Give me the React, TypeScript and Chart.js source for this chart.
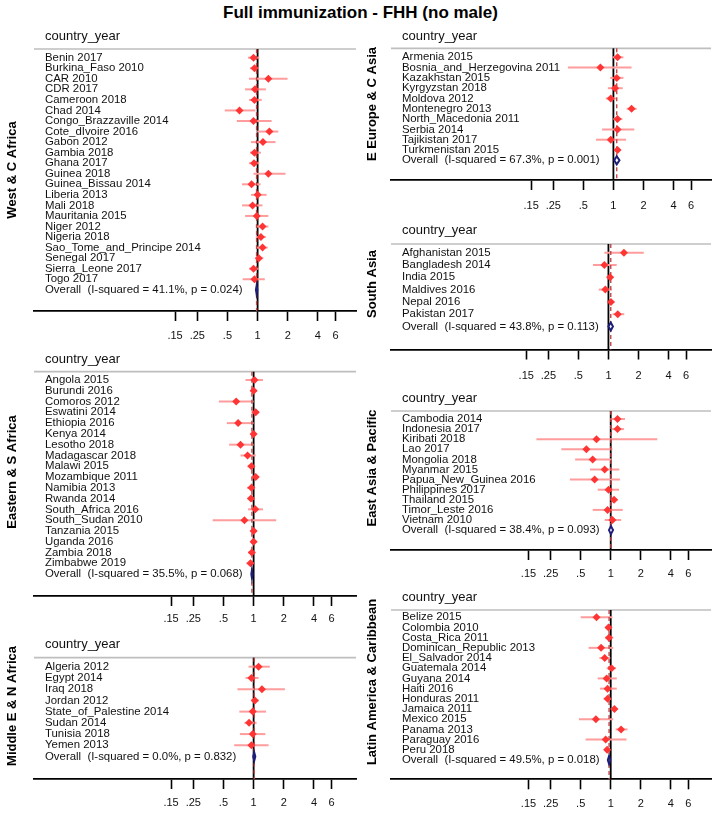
import React, { useEffect, useRef } from "react";
import { Chart, registerables } from "chart.js";

Chart.register(...registerables);

const FONT = '"Liberation Sans", Arial, sans-serif';

const chartTitle = "Full immunization - FHH (no male)";
const headerText = "country_year";
const tickValues = [0.15, 0.25, 0.5, 1, 2, 4, 6];
const tickLabels = [".15", ".25", ".5", "1", "2", "4", "6"];

const regionNames = [
  "West & C Africa",
  "Eastern & S Africa",
  "Middle E & N Africa",
  "E Europe & C Asia",
  "South Asia",
  "East Asia & Pacific",
  "Latin America & Caribbean",
];

// West & C Africa
const westLabels = [
  "Benin 2017", "Burkina_Faso 2010", "CAR 2010", "CDR 2017", "Cameroon 2018", "Chad 2014",
  "Congo_Brazzaville 2014", "Cote_dIvoire 2016", "Gabon 2012", "Gambia 2018", "Ghana 2017",
  "Guinea 2018", "Guinea_Bissau 2014", "Liberia 2013", "Mali 2018", "Mauritania 2015",
  "Niger 2012", "Nigeria 2018", "Sao_Tome_and_Principe 2014", "Senegal 2017",
  "Sierra_Leone 2017", "Togo 2017",
];
const westEst = [0.91, 0.93, 1.28, 0.94, 0.93, 0.66, 0.91, 1.31, 1.13, 0.93, 0.92, 1.28, 0.87, 1.0, 0.89, 0.98, 1.12, 1.08, 1.12, 1.03, 0.91, 0.93];
const westLo = [0.8, 0.84, 0.82, 0.75, 0.82, 0.47, 0.62, 0.99, 0.86, 0.84, 0.82, 0.91, 0.7, 0.86, 0.7, 0.75, 0.96, 0.96, 0.98, 0.95, 0.82, 0.71];
const westHi = [1.04, 1.02, 1.99, 1.21, 1.1, 0.95, 1.38, 1.61, 1.51, 1.08, 1.04, 1.9, 1.07, 1.23, 1.12, 1.28, 1.28, 1.21, 1.26, 1.14, 1.02, 1.18];

// Eastern & S Africa
const eastSLabels = [
  "Angola 2015", "Burundi 2016", "Comoros 2012", "Eswatini 2014", "Ethiopia 2016", "Kenya 2014",
  "Lesotho 2018", "Madagascar 2018", "Malawi 2015", "Mozambique 2011", "Namibia 2013",
  "Rwanda 2014", "South_Africa 2016", "South_Sudan 2010", "Tanzania 2015", "Uganda 2016",
  "Zambia 2018", "Zimbabwe 2019",
];
const eastSEst = [1.02, 1.0, 0.67, 1.05, 0.7, 1.0, 0.74, 0.87, 0.95, 1.05, 0.95, 0.94, 1.04, 0.81, 1.0, 1.0, 0.96, 0.93];
const eastSLo = [0.83, 0.93, 0.45, 0.95, 0.54, 0.93, 0.57, 0.74, 0.87, 0.95, 0.86, 0.87, 0.88, 0.39, 0.93, 0.93, 0.88, 0.85];
const eastSHi = [1.24, 1.08, 1.0, 1.13, 1.0, 1.06, 1.0, 1.05, 1.02, 1.13, 1.02, 1.02, 1.24, 1.68, 1.08, 1.08, 1.04, 1.0];

// Middle E & N Africa
const menaLabels = [
  "Algeria 2012", "Egypt 2014", "Iraq 2018", "Jordan 2012", "State_of_Palestine 2014",
  "Sudan 2014", "Tunisia 2018", "Yemen 2013",
];
const menaEst = [1.12, 0.95, 1.21, 1.03, 0.98, 0.9, 0.98, 0.95];
const menaLo = [0.89, 0.83, 0.69, 0.94, 0.72, 0.81, 0.73, 0.64];
const menaHi = [1.45, 1.12, 2.05, 1.12, 1.33, 1.07, 1.31, 1.41];

// E Europe & C Asia
const eecaLabels = [
  "Armenia 2015", "Bosnia_and_Herzegovina 2011", "Kazakhstan 2015", "Kyrgyzstan 2018",
  "Moldova 2012", "Montenegro 2013", "North_Macedonia 2011", "Serbia 2014",
  "Tajikistan 2017", "Turkmenistan 2015",
];
const eecaEst = [1.1, 0.74, 1.08, 1.04, 0.94, 1.52, 1.1, 1.1, 0.94, 1.1];
const eecaLo = [0.98, 0.35, 0.93, 0.88, 0.84, 1.36, 1.0, 0.77, 0.67, 1.04];
const eecaHi = [1.26, 1.52, 1.26, 1.24, 1.06, 1.71, 1.23, 1.62, 1.34, 1.18];

// South Asia
const southLabels = [
  "Afghanistan 2015", "Bangladesh 2014", "India 2015", "Maldives 2016", "Nepal 2016", "Pakistan 2017",
];
const southEst = [1.43, 0.91, 1.04, 0.93, 1.06, 1.24];
const southLo = [0.91, 0.7, 0.96, 0.8, 0.99, 1.1];
const southHi = [2.26, 1.21, 1.12, 1.08, 1.15, 1.44];

// East Asia & Pacific
const eapLabels = [
  "Cambodia 2014", "Indonesia 2017", "Kiribati 2018", "Lao 2017", "Mongolia 2018",
  "Myanmar 2015", "Papua_New_Guinea 2016", "Philippines 2017", "Thailand 2015",
  "Timor_Leste 2016", "Vietnam 2010",
];
const eapEst = [1.17, 1.17, 0.72, 0.57, 0.66, 0.87, 0.69, 0.95, 1.08, 0.93, 1.04];
const eapLo = [0.99, 1.02, 0.18, 0.32, 0.44, 0.62, 0.39, 0.74, 1.0, 0.66, 0.87];
const eapHi = [1.39, 1.36, 2.93, 1.04, 1.02, 1.22, 1.24, 1.21, 1.17, 1.32, 1.27];

// Latin America & Caribbean
const lacLabels = [
  "Belize 2015", "Colombia 2010", "Costa_Rica 2011", "Dominican_Republic 2013", "El_Salvador 2014",
  "Guatemala 2014", "Guyana 2014", "Haiti 2016", "Honduras 2011", "Jamaica 2011",
  "Mexico 2015", "Panama 2013", "Paraguay 2016", "Peru 2018",
];
const lacEst = [0.72, 0.95, 0.96, 0.8, 0.87, 1.02, 0.91, 0.93, 0.93, 1.09, 0.71, 1.27, 0.89, 0.92];
const lacLo = [0.5, 0.88, 0.88, 0.6, 0.77, 0.91, 0.74, 0.78, 0.85, 1.0, 0.48, 1.12, 0.56, 0.87];
const lacHi = [1.04, 1.02, 1.06, 1.06, 0.99, 1.13, 1.15, 1.15, 1.01, 1.17, 1.06, 1.47, 1.44, 0.99];

// Overall (pooled) rows
const overallTexts = [
  "Overall  (I-squared = 41.1%, p = 0.024)",
  "Overall  (I-squared = 35.5%, p = 0.068)",
  "Overall  (I-squared = 0.0%, p = 0.832)",
  "Overall  (I-squared = 67.3%, p = 0.001)",
  "Overall  (I-squared = 43.8%, p = 0.113)",
  "Overall  (I-squared = 38.4%, p = 0.093)",
  "Overall  (I-squared = 49.5%, p = 0.018)",
];
const overallEst = [0.977, 0.962, 1.015, 1.08, 1.055, 1.005, 0.963];
const overallLo = [0.962, 0.948, 0.99, 1.02, 1.0, 0.96, 0.935];
const overallHi = [0.993, 0.977, 1.04, 1.15, 1.11, 1.055, 0.99];

const PANELS = [
  { labels: westLabels, est: westEst, lo: westLo, hi: westHi },
  { labels: eastSLabels, est: eastSEst, lo: eastSLo, hi: eastSHi },
  { labels: menaLabels, est: menaEst, lo: menaLo, hi: menaHi },
  { labels: eecaLabels, est: eecaEst, lo: eecaLo, hi: eecaHi },
  { labels: southLabels, est: southEst, lo: southLo, hi: southHi },
  { labels: eapLabels, est: eapEst, lo: eapLo, hi: eapHi },
  { labels: lacLabels, est: lacEst, lo: lacLo, hi: lacHi },
];

// Layout (page pixels)
const PPD = 100.5; // pixels per decade of log axis
const LAYOUT = [
  { left: 0, width: 360, header: 36, grid: 49, first: 57.7, step: 10.55, axis: 311, tick: 336, one: 258.3, xl: 34, xr: 357, side: 170, sideX: 12 },
  { left: 0, width: 360, header: 359, grid: 371.7, first: 380, step: 10.78, axis: 596, tick: 619, one: 254.3, xl: 34, xr: 357, side: 472, sideX: 12 },
  { left: 0, width: 360, header: 644, grid: 657.7, first: 666.7, step: 11.23, axis: 779, tick: 803.3, one: 254.3, xl: 34, xr: 357, side: 706, sideX: 12 },
  { left: 360, width: 355, header: 36, grid: 48.3, first: 57.3, step: 10.3, axis: 180, tick: 206, one: 615, xl: 391, xr: 713.3, side: 104, sideX: 372.5 },
  { left: 360, width: 355, header: 230, grid: 244, first: 252.7, step: 12.3, axis: 349.5, tick: 375.7, one: 610, xl: 391, xr: 713.3, side: 284, sideX: 372.5 },
  { left: 360, width: 355, header: 398.3, grid: 411, first: 419, step: 10.1, axis: 550, tick: 574, one: 612.3, xl: 391, xr: 713.3, side: 468, sideX: 372.5 },
  { left: 360, width: 355, header: 597.3, grid: 610, first: 617.3, step: 10.19, axis: 779.3, tick: 804, one: 612.3, xl: 391, xr: 713.3, side: 682, sideX: 372.5 },
];

function geom(idx: number) {
  const L = LAYOUT[idx];
  const top = Math.round(L.header - 13);
  const bottom = Math.round(L.tick + 10);
  return { L, top, height: bottom - top };
}

function Panel({ idx }: { idx: number }) {
  const ref = useRef<HTMLCanvasElement | null>(null);
  const { L, top, height } = geom(idx);

  useEffect(() => {
    const canvas = ref.current;
    if (!canvas) return;
    const D = PANELS[idx];
    const n = D.labels.length;
    const xMin = Math.pow(10, (L.xl - L.one) / PPD);
    const xMax = Math.pow(10, (L.xr - L.one) / PPD);
    const yMin = -(L.first - L.grid) / L.step;
    const yMax = n + (L.axis - (L.first + n * L.step)) / L.step;
    const axisH = 34;
    const tickFont = 11;
    const tickLen = 10;
    const tickPad = L.tick - L.axis - tickLen - (tickFont * 1.2) / 2;
    const padding = {
      left: L.xl - L.left,
      right: L.left + L.width - L.xr,
      top: L.grid - top,
      bottom: height - (L.axis - top) - axisH,
    };

    const forest = {
      id: "forest" + idx,
      beforeDatasetsDraw(chart: any) {
        const { ctx, chartArea: a, scales } = chart;
        const x = scales.x, y = scales.y;
        ctx.save();
        // header separator
        ctx.strokeStyle = "#BEBEBE";
        ctx.lineWidth = 1.7;
        ctx.beginPath();
        ctx.moveTo(a.left, a.top);
        ctx.lineTo(a.right, a.top);
        ctx.stroke();
        // null line
        const px1 = x.getPixelForValue(1);
        ctx.strokeStyle = "#000";
        ctx.lineWidth = 1.8;
        ctx.beginPath();
        ctx.moveTo(px1, a.top);
        ctx.lineTo(px1, a.bottom);
        ctx.stroke();
        // CIs
        ctx.strokeStyle = "#FF9C9C";
        ctx.lineWidth = 2;
        for (let i = 0; i < n; i++) {
          const yy = y.getPixelForValue(i);
          ctx.beginPath();
          ctx.moveTo(x.getPixelForValue(D.lo[i]), yy);
          ctx.lineTo(x.getPixelForValue(D.hi[i]), yy);
          ctx.stroke();
        }
        // pooled estimate line
        const pe = x.getPixelForValue(overallEst[idx]);
        ctx.strokeStyle = "#C04848";
        ctx.lineWidth = 1.4;
        ctx.setLineDash([4, 3]);
        ctx.beginPath();
        ctx.moveTo(pe, a.top);
        ctx.lineTo(pe, a.bottom);
        ctx.stroke();
        ctx.restore();
      },
      afterDatasetsDraw(chart: any) {
        const { ctx, scales } = chart;
        const x = scales.x, y = scales.y;
        const yy = y.getPixelForValue(n);
        const xl = x.getPixelForValue(overallLo[idx]);
        const xr = x.getPixelForValue(overallHi[idx]);
        const xc = x.getPixelForValue(overallEst[idx]);
        ctx.save();
        ctx.beginPath();
        ctx.moveTo(xl, yy);
        ctx.lineTo(xc, yy - 4);
        ctx.lineTo(xr, yy);
        ctx.lineTo(xc, yy + 4);
        ctx.closePath();
        ctx.fillStyle = "#fff";
        ctx.fill();
        ctx.strokeStyle = "#1E1E78";
        ctx.lineWidth = 2;
        ctx.stroke();
        ctx.restore();
      },
      afterDraw(chart: any) {
        const { ctx, chartArea: a, scales } = chart;
        const y = scales.y;
        const tx = a.left + 11;
        ctx.save();
        ctx.fillStyle = "#111";
        ctx.textAlign = "left";
        ctx.textBaseline = "middle";
        ctx.font = `13px ${FONT}`;
        ctx.fillText(headerText, tx, L.header - top);
        ctx.font = `11.4px ${FONT}`;
        for (let i = 0; i < n; i++) {
          ctx.fillText(D.labels[i], tx, y.getPixelForValue(i));
        }
        ctx.fillText(overallTexts[idx], tx, y.getPixelForValue(n));
        // region label
        ctx.translate(L.sideX - L.left, L.side - top);
        ctx.rotate(-Math.PI / 2);
        ctx.textAlign = "center";
        ctx.font = `bold 13px ${FONT}`;
        ctx.fillStyle = "#000";
        ctx.fillText(regionNames[idx], 0, 0);
        ctx.restore();
      },
    };

    const chart = new Chart(canvas, {
      type: "scatter",
      data: {
        datasets: [
          {
            data: D.est.map((v, i) => ({ x: v, y: i })),
            pointStyle: "rectRot",
            pointRadius: 4,
            backgroundColor: "#FF3535",
            borderWidth: 0,
          },
        ],
      },
      options: {
        responsive: false,
        animation: false,
        events: [],
        devicePixelRatio: 1,
        layout: { padding },
        plugins: { legend: { display: false }, tooltip: { enabled: false } },
        scales: {
          x: {
            type: "logarithmic",
            min: xMin,
            max: xMax,
            afterBuildTicks: (s: any) => {
              s.ticks = tickValues.map((v) => ({ value: v }));
            },
            afterFit: (s: any) => {
              s.height = axisH;
            },
            ticks: {
              autoSkip: false,
              maxRotation: 0,
              padding: tickPad,
              color: "#111",
              font: { family: FONT, size: tickFont },
              callback: (_v: any, i: number) => tickLabels[i],
            },
            grid: {
              drawOnChartArea: false,
              drawTicks: true,
              tickLength: tickLen,
              tickWidth: 1.6,
              tickColor: "#000",
            },
            border: { display: true, color: "#000", width: 1.7 },
          },
          y: {
            type: "linear",
            reverse: true,
            min: yMin,
            max: yMax,
            display: false,
          },
        },
      },
      plugins: [forest],
    } as any);
    return () => chart.destroy();
  }, []);

  return (
    <canvas
      ref={ref}
      width={L.width}
      height={height}
      style={{ position: "absolute", left: L.left, top, width: L.width, height }}
    />
  );
}

export default function App() {
  return (
    <div style={{ position: "absolute", left: 0, top: 0, width: 715, height: 817, background: "#fff", overflow: "hidden" }}>
      <div
        style={{
          position: "absolute",
          left: 3,
          top: 2,
          width: 715,
          textAlign: "center",
          fontFamily: FONT,
          fontWeight: "bold",
          fontSize: 17,
          lineHeight: "22px",
          color: "#000",
        }}
      >
        {chartTitle}
      </div>
      {PANELS.map((_, i) => (
        <Panel key={i} idx={i} />
      ))}
    </div>
  );
}
